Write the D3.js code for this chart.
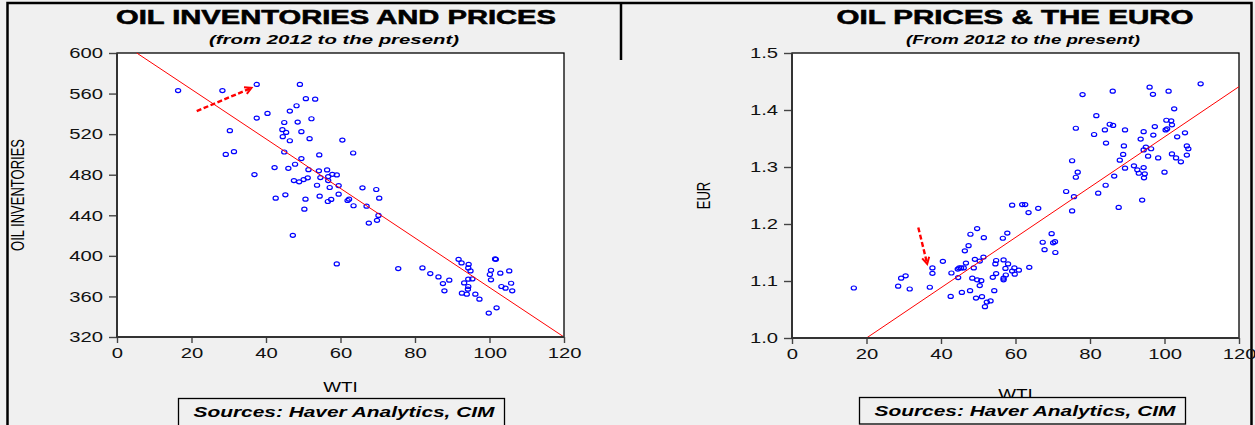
<!DOCTYPE html>
<html>
<head>
<meta charset="utf-8">
<script src="https://cdn.jsdelivr.net/npm/d3@7"></script>
<style>
	body { margin: 0; background: #f0f0f0; }
	svg { display: block; font-family: "Liberation Sans", Arial, sans-serif; }
</style>
</head>
<body>
<svg id="chart" width="1255" height="425"></svg>
<script>
// ---- data ----
// [WTI, oil inventories]
const inventoryPoints = [
	[16.4, 563], [28.3, 563], [37.5, 569], [49.1, 569], [50.7, 555], [53.2, 554.5],
	[48.2, 548], [46.4, 542.7], [40.4, 540.4], [37.5, 535.8], [44.9, 531.5], [48.5, 531.9],
	[52.2, 535.2], [30.3, 523.4], [44.4, 524.4], [45.4, 521.7], [49.5, 522.4], [44.5, 517.5],
	[46.4, 513.5], [51.7, 515.5], [60.5, 514.2], [63.4, 501.4], [29.2, 500], [31.4, 502.7],
	[44.9, 502.4], [49.5, 495.9], [54.3, 499.5], [42.3, 487], [46, 486.3], [47.8, 490.3],
	[51.4, 485], [54.2, 483.8], [56.4, 484.7], [36.9, 480.1], [47.5, 474.2], [48.9, 473],
	[50.1, 475.2], [51.2, 476.9], [54.6, 477.2], [56.7, 478.2], [57.8, 480.4], [59, 479.8],
	[56.7, 474.2], [53.7, 469.6], [57.1, 467.4], [59.5, 469.3], [42.6, 456.9], [45.2, 460.2],
	[50.6, 455.9], [54.4, 458.8], [57.5, 455.6], [59.5, 460.8], [62.3, 455.9], [65.9, 467.1],
	[69.6, 465.4], [70.4, 456.9], [56.6, 453.6], [61.9, 454.6], [63.5, 449.4], [67, 449],
	[70.2, 439.9], [69.8, 435], [67.6, 432.3], [50.3, 446], [47.2, 420.2], [59, 392],
	[75.5, 387.5], [82, 388.1], [84.1, 382.5], [86.3, 379.2], [87.5, 372.7], [87.9, 365.5],
	[89.2, 376], [91.7, 396.6], [92.5, 393], [94.4, 391.7], [94.3, 388.1], [94.9, 385.1],
	[93.2, 373.3], [94.3, 377], [95.4, 377.3], [94.3, 369.8], [94.2, 367.2], [92.6, 363.2],
	[93.9, 362.2], [96.2, 362.2], [97.3, 357.3], [99.8, 343.6], [101.9, 348.8], [101.7, 396.6],
	[101.5, 397], [100.4, 385.8], [100.1, 381.6], [100.4, 376.4], [102.9, 382.9], [105.3, 385.1],
	[103.2, 369.8], [104.3, 368.1], [105.8, 373], [106.1, 365.5]
];

// [WTI, EUR]
const euroPoints = [
	[16.6, 1.0877], [28.5, 1.091], [29.3, 1.105], [30.5, 1.109], [31.6, 1.086], [37.0, 1.089],
	[37.7, 1.1135], [37.7, 1.123], [40.5, 1.1345], [42.8, 1.114], [44.6, 1.106], [44.5, 1.121],
	[44.9, 1.123], [45.4, 1.123], [46.1, 1.123], [46.7, 1.1315], [48.8, 1.123], [49.1, 1.138],
	[48.4, 1.105], [49.7, 1.102], [50.8, 1.1005], [50.4, 1.135], [51.4, 1.142], [42.6, 1.073],
	[45.6, 1.080], [47.8, 1.083], [49.4, 1.070], [51.0, 1.0725], [50.4, 1.092], [46.4, 1.153],
	[47.4, 1.162], [47.9, 1.182], [49.7, 1.192], [51.5, 1.176], [56.6, 1.175], [57.8, 1.184],
	[87.7, 1.229], [75.2, 1.223], [66.1, 1.2275], [63.5, 1.220], [59.1, 1.233], [61.8, 1.234],
	[62.6, 1.234], [69.7, 1.183], [67.3, 1.168], [70.1, 1.167], [70.6, 1.169], [67.8, 1.155],
	[70.7, 1.150], [54.8, 1.136], [56.8, 1.137], [54.6, 1.130], [58.0, 1.130], [63.7, 1.124],
	[57.3, 1.122], [59.7, 1.123], [59.1, 1.1175], [60.9, 1.119], [59.8, 1.112], [54.8, 1.113],
	[57.4, 1.1105], [53.9, 1.1065], [56.8, 1.105], [56.8, 1.102], [54.3, 1.083], [53.3, 1.065],
	[52.3, 1.063], [51.8, 1.055],
	[109.7, 1.446], [96.0, 1.440], [101.1, 1.433], [96.9, 1.4275], [86.1, 1.433], [78.0, 1.427],
	[102.6, 1.402], [81.7, 1.390], [100.5, 1.382], [101.8, 1.381], [102.0, 1.374], [85.3, 1.375],
	[86.2, 1.373], [76.2, 1.368], [84.0, 1.365], [89.4, 1.365], [97.4, 1.371], [94.4, 1.362],
	[100.3, 1.365], [100.7, 1.367], [105.5, 1.360], [81.1, 1.357], [97.0, 1.356], [103.4, 1.353],
	[93.6, 1.349], [84.3, 1.342], [89.1, 1.337], [95.0, 1.335], [96.4, 1.332], [94.4, 1.330],
	[106.0, 1.337], [106.4, 1.332], [102.0, 1.323], [88.9, 1.322], [95.6, 1.319], [106.0, 1.321],
	[103.1, 1.316], [98.3, 1.316], [88.0, 1.312], [104.4, 1.309], [75.2, 1.311], [91.8, 1.302],
	[94.4, 1.299], [89.4, 1.298], [92.7, 1.295], [76.7, 1.291], [93.1, 1.289], [94.7, 1.288],
	[100.0, 1.291], [76.2, 1.282], [86.5, 1.284], [94.5, 1.281], [84.2, 1.268], [73.6, 1.257],
	[82.2, 1.254], [75.7, 1.248], [94.0, 1.242]
];

const wtiTicks = [0, 20, 40, 60, 80, 100, 120];
const inventoryTicks = [320, 360, 400, 440, 480, 520, 560, 600];
const euroTicks = [1.0, 1.1, 1.2, 1.3, 1.4, 1.5];

// fitted lines and the hand-drawn arrows, in data units
const inventoryFit = [[5.3, 600], [120, 320]];
const euroFit = [[20, 1.0], [120, 1.441]];
const inventoryArrow = [[21.4, 542.7], [36.1, 565.6]];
const euroArrow = [[33.9, 1.194], [36.3, 1.130]];

const SX = 1.35; // the picture is stretched sideways

const svg = d3.select("#chart");

// page frame
svg.append("rect").attr("width", 1255).attr("height", 425).attr("fill", "#f0f0f0");
svg.append("path")
	.attr("d", "M7.5,432 V3 H1251.5 V432 M621,3 V60")
	.attr("fill", "none")
	.attr("stroke", "#000")
	.attr("stroke-width", 2.5);

function stretchedText(g, x, y, txt, opts) {
	return g.append("text")
		.attr("transform", `translate(${x},${y}) scale(${opts.sx || SX},1)`)
		.attr("text-anchor", opts.anchor || "middle")
		.attr("font-size", opts.size)
		.attr("font-weight", opts.weight || "normal")
		.attr("font-style", opts.style || "normal")
		.attr("fill", "#000")
		.text(txt);
}

function drawPanel(cfg) {
	const g = svg.append("g");
	const x = d3.scaleLinear().domain([0, 120]).range([cfg.x0, cfg.x1]);
	const y = d3.scaleLinear().domain(cfg.yDomain).range([cfg.y1, cfg.y0]);

	// titles
	g.append("text")
		.attr("x", cfg.titleX)
		.attr("y", 24)
		.attr("text-anchor", "middle")
		.attr("font-size", 21)
		.attr("font-weight", "bold")
		.attr("stroke", "#000")
		.attr("stroke-width", 0.6)
		.attr("textLength", cfg.titleLen)
		.attr("lengthAdjust", "spacingAndGlyphs")
		.text(cfg.title);
	g.append("text")
		.attr("x", cfg.subX)
		.attr("y", 44)
		.attr("text-anchor", "middle")
		.attr("font-size", 13.5)
		.attr("font-weight", "bold")
		.attr("font-style", "italic")
		.attr("textLength", cfg.subLen)
		.attr("lengthAdjust", "spacingAndGlyphs")
		.text(cfg.subtitle);

	// plot area
	g.append("rect")
		.attr("x", cfg.x0)
		.attr("y", cfg.y0)
		.attr("width", cfg.x1 - cfg.x0)
		.attr("height", cfg.y1 - cfg.y0)
		.attr("fill", "#fff")
		.attr("stroke", "#000")
		.attr("stroke-width", 1.3);

	// points
	g.selectAll(".pt")
		.data(cfg.points)
		.enter()
		.append("ellipse")
		.attr("class", "pt")
		.attr("cx", (d) => x(d[0]))
		.attr("cy", (d) => y(d[1]))
		.attr("rx", 2.6)
		.attr("ry", 2)
		.attr("fill", "none")
		.attr("stroke", "#0000ff")
		.attr("stroke-width", 1.2);

	// fit line
	g.append("path")
		.attr("d", d3.line().x((d) => x(d[0])).y((d) => y(d[1]))(cfg.fit))
		.attr("stroke", "#ff0000")
		.attr("stroke-width", 1)
		.attr("fill", "none");

	// dashed arrow
	const [t0, t1] = cfg.arrow.map((d) => [x(d[0]), y(d[1])]);
	g.append("line")
		.attr("x1", t0[0]).attr("y1", t0[1])
		.attr("x2", t1[0]).attr("y2", t1[1])
		.attr("stroke", "#ff0000")
		.attr("stroke-width", 2.4)
		.attr("stroke-dasharray", "5,2.5");
	const ang = Math.atan2(t0[1] - t1[1], t0[0] - t1[0]);
	const arm = (a) => [t1[0] + 7.5 * Math.cos(ang + a), t1[1] + 7.5 * Math.sin(ang + a)];
	const a1 = arm(0.5), a2 = arm(-0.5);
	g.append("path")
		.attr("d", `M${a1[0]},${a1[1]} L${t1[0]},${t1[1]} L${a2[0]},${a2[1]}`)
		.attr("stroke", "#ff0000")
		.attr("stroke-width", 2)
		.attr("fill", "none");

	// axes
	const yAxis = g.append("g")
		.attr("transform", `translate(${cfg.x0},0)`)
		.call(d3.axisLeft(y).tickValues(cfg.yTicks).tickSize(8).tickPadding(6).tickFormat(cfg.yFormat));
	const xAxis = g.append("g")
		.attr("transform", `translate(0,${cfg.y1})`)
		.call(d3.axisBottom(x).tickValues(wtiTicks).tickSize(6).tickPadding(4));

	[yAxis, xAxis].forEach((ax) => {
		ax.select(".domain").remove();
		ax.selectAll(".tick line").attr("stroke", "#444").attr("stroke-width", 1.4);
		ax.selectAll(".tick text")
			.attr("font-size", 15)
			.attr("font-family", "Liberation Sans, Arial, sans-serif")
			.attr("fill", "#111");
	});
	yAxis.selectAll(".tick text").attr("x", -14 / SX).attr("transform", `scale(${SX},1)`);
	xAxis.selectAll(".tick text").attr("transform", `scale(${SX},1)`);

	g.append("path")
		.attr("d", `M${cfg.x0},${cfg.y0} V${cfg.y1} H${cfg.x1}`)
		.attr("fill", "none")
		.attr("stroke", "#333")
		.attr("stroke-width", 2);

	// axis titles
	stretchedText(g, (cfg.x0 + cfg.x1) / 2, cfg.wtiY, "WTI", { size: 14 });
	g.append("text")
		.attr("transform", `translate(${cfg.yLabelX},${(cfg.y0 + cfg.y1) / 2}) rotate(-90) scale(1,${SX})`)
		.attr("text-anchor", "middle")
		.attr("font-size", 13)
		.attr("dy", "0.35em")
		.text(cfg.yLabel);

	// source box
	g.append("rect")
		.attr("x", cfg.boxX)
		.attr("y", cfg.boxY)
		.attr("width", 326)
		.attr("height", cfg.boxH)
		.attr("fill", "#f0f0f0")
		.attr("stroke", "#000")
		.attr("stroke-width", 1.3);
	g.append("text")
		.attr("x", cfg.boxX + 15)
		.attr("y", cfg.boxY + 18)
		.attr("font-size", 14)
		.attr("font-weight", "bold")
		.attr("font-style", "italic")
		.attr("textLength", 301)
		.attr("lengthAdjust", "spacingAndGlyphs")
		.text("Sources:  Haver Analytics, CIM");
}

drawPanel({
	x0: 117, x1: 564, y0: 53, y1: 337,
	yDomain: [320, 600], yTicks: inventoryTicks, yFormat: d3.format("d"),
	points: inventoryPoints, fit: inventoryFit, arrow: inventoryArrow,
	title: "OIL INVENTORIES AND PRICES", titleX: 336, titleLen: 440,
	subtitle: "(from 2012 to the present)", subX: 334, subLen: 250,
	yLabel: "OIL INVENTORIES", yLabelX: 18, wtiY: 392,
	boxX: 178.5, boxY: 398.5, boxH: 40
});

drawPanel({
	x0: 792, x1: 1239, y0: 53, y1: 338,
	yDomain: [1.0, 1.5], yTicks: euroTicks, yFormat: d3.format(".1f"),
	points: euroPoints, fit: euroFit, arrow: euroArrow,
	title: "OIL PRICES & THE EURO", titleX: 1015, titleLen: 357,
	subtitle: "(From 2012 to the present)", subX: 1023, subLen: 234,
	yLabel: "EUR", yLabelX: 704, wtiY: 399,
	boxX: 859.5, boxY: 397.5, boxH: 26.5
});
</script>
</body>
</html>
